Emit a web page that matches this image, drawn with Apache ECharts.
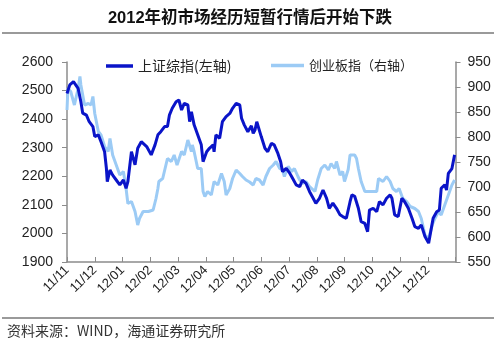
<!DOCTYPE html>
<html>
<head>
<meta charset="utf-8">
<script src="https://cdn.jsdelivr.net/npm/echarts@6/dist/echarts.min.js"></script>
<style>html,body{margin:0;padding:0;background:#fff;}#main{width:500px;height:349px;}</style>
</head>
<body>
<div id="main"></div>
<script>
const tickLabels = ['11/11','11/12','12/01','12/02','12/03','12/04','12/05','12/06','12/07','12/08','12/09','12/10','12/11','12/12',''];
const seriesNames = ['上证综指(左轴)', '创业板指（右轴）'];

const shDates = ['2011-11-01','2011-11-04','2011-11-08','2011-11-13','2011-11-16','2011-11-18','2011-11-22','2011-11-25','2011-11-29',
'2011-12-01','2011-12-05','2011-12-08','2011-12-12','2011-12-14','2011-12-15','2011-12-18','2011-12-21','2011-12-25','2011-12-29',
'2012-01-02','2012-01-05','2012-01-07','2012-01-11','2012-01-15','2012-01-18','2012-01-22','2012-01-28',
'2012-02-02','2012-02-06','2012-02-09','2012-02-12','2012-02-16','2012-02-19','2012-02-21','2012-02-24','2012-02-28',
'2012-03-02','2012-03-05','2012-03-08','2012-03-12','2012-03-14','2012-03-16','2012-03-19','2012-03-23','2012-03-27','2012-03-29',
'2012-04-02','2012-04-05','2012-04-09','2012-04-10','2012-04-12','2012-04-16','2012-04-19','2012-04-23','2012-04-27','2012-04-30',
'2012-05-04','2012-05-08','2012-05-10','2012-05-13','2012-05-17','2012-05-21','2012-05-23','2012-05-25','2012-05-27','2012-05-29',
'2012-06-01','2012-06-05','2012-06-08','2012-06-12','2012-06-15','2012-06-19','2012-06-22','2012-06-24','2012-06-28',
'2012-07-02','2012-07-05','2012-07-09','2012-07-13','2012-07-16','2012-07-20','2012-07-24','2012-07-28','2012-07-31',
'2012-08-04','2012-08-08','2012-08-12','2012-08-15','2012-08-19','2012-08-23','2012-08-27','2012-08-30',
'2012-09-03','2012-09-07','2012-09-09','2012-09-12','2012-09-16','2012-09-19','2012-09-23','2012-09-26','2012-09-28',
'2012-10-02','2012-10-06','2012-10-09','2012-10-13','2012-10-17','2012-10-21','2012-10-23','2012-10-26','2012-10-30',
'2012-11-03','2012-11-06','2012-11-10','2012-11-14','2012-11-17','2012-11-21','2012-11-24','2012-11-28',
'2012-12-02','2012-12-04','2012-12-07','2012-12-11','2012-12-14','2012-12-16','2012-12-20','2012-12-22','2012-12-24','2012-12-28','2012-12-31'];
const shValues = [2490,2520,2531,2508,2461,2421,2414,2391,2374,
2339,2345,2321,2286,2228,2181,2222,2204,2187,2170,
2187,2158,2181,2286,2240,2298,2321,2304,
2275,2310,2345,2356,2374,2374,2414,2438,2461,
2467,2432,2455,2450,2391,2426,2380,2345,2310,2251,
2286,2298,2310,2286,2345,2333,2391,2409,2420,2438,
2455,2450,2403,2380,2356,2377,2350,2362,2391,2385,
2339,2298,2286,2315,2310,2280,2251,2216,2228,
2210,2193,2170,2164,2187,2175,2146,2123,2105,
2123,2152,2123,2088,2106,2088,2065,2059,
2053,2111,2135,2130,2088,2041,2035,2006,2082,
2088,2076,2111,2100,2123,2135,2123,2065,2059,
2123,2111,2088,2053,2024,2018,2030,1989,
1966,1960,2053,2076,2082,2158,2170,2152,2210,2227,2275];

const cybDates = ['2011-11-01','2011-11-02','2011-11-05','2011-11-09','2011-11-13','2011-11-15','2011-11-16','2011-11-20','2011-11-24','2011-11-27','2011-11-29',
'2011-12-01','2011-12-05','2011-12-08','2011-12-12','2011-12-16','2011-12-18','2011-12-21','2011-12-25','2011-12-29',
'2012-01-02','2012-01-05','2012-01-07','2012-01-11','2012-01-15','2012-01-18','2012-01-20','2012-01-24','2012-01-30',
'2012-02-04','2012-02-07','2012-02-09','2012-02-10','2012-02-14','2012-02-19','2012-02-23','2012-02-26','2012-02-29',
'2012-03-05','2012-03-08','2012-03-12','2012-03-16','2012-03-17','2012-03-19','2012-03-23','2012-03-27','2012-03-29','2012-03-31',
'2012-04-03','2012-04-07','2012-04-10','2012-04-14','2012-04-18','2012-04-21','2012-04-23','2012-04-27','2012-04-30',
'2012-05-04','2012-05-08','2012-05-11','2012-05-15','2012-05-19','2012-05-23','2012-05-26','2012-05-30',
'2012-06-03','2012-06-06','2012-06-10','2012-06-14','2012-06-17','2012-06-21','2012-06-24','2012-06-26','2012-06-30',
'2012-07-04','2012-07-07','2012-07-11','2012-07-13','2012-07-16','2012-07-20','2012-07-24','2012-07-30',
'2012-08-02','2012-08-06','2012-08-10','2012-08-14','2012-08-17','2012-08-21','2012-08-23','2012-08-27','2012-08-30',
'2012-09-01','2012-09-05','2012-09-07','2012-09-12','2012-09-14','2012-09-16','2012-09-19','2012-09-23','2012-09-27','2012-09-30',
'2012-10-06','2012-10-08','2012-10-09','2012-10-13','2012-10-17','2012-10-21','2012-10-24','2012-10-28','2012-10-31',
'2012-11-04','2012-11-08','2012-11-12','2012-11-17','2012-11-21','2012-11-24','2012-11-28',
'2012-12-02','2012-12-03','2012-12-06','2012-12-09','2012-12-13','2012-12-16','2012-12-20','2012-12-24','2012-12-28','2012-12-31'];
const cybValues = [854,897,891,864,897,921,904,864,867,864,881,
847,811,804,781,771,797,764,744,724,
731,697,667,671,651,624,637,651,651,
654,677,697,711,717,757,751,764,744,
771,764,794,771,784,771,737,737,691,681,
691,684,711,704,727,711,684,697,717,
734,727,721,714,710,704,717,714,
704,721,737,744,751,737,734,721,741,
731,737,721,714,707,711,701,691,
714,737,744,734,747,737,751,724,731,
711,735,764,764,757,737,711,691,691,691,
691,717,721,711,721,711,697,691,697,
677,671,661,657,651,637,604,
597,604,624,637,651,644,664,684,704,714];

// convert a date to its position in months from the first tick (2011-11)
function monthPos(d) {
  const p = d.split('-').map(Number);
  const idx = (p[0] - 2011) * 12 + (p[1] - 11);
  const dim = new Date(p[0], p[1], 0).getDate();
  return idx + (p[2] - 1) / dim;
}
function pairs(dates, vals) { return dates.map((d, i) => [monthPos(d), vals[i]]); }

const FONT = "'Liberation Sans', 'Noto Sans CJK SC', sans-serif";
const CJK = "'Noto Sans CJK SC', sans-serif";
const DARK = '#0a14c8', LIGHT = '#9ccbf5';
const chart = echarts.init(document.getElementById('main'), null, {renderer: 'canvas'});
chart.setOption({
  animation: false,
  backgroundColor: '#fff',
  title: {
    text: '2012年初市场经历短暂行情后开始下跌',
    left: 'center', top: 5,
    textStyle: {fontFamily: FONT, fontSize: 16.5, fontWeight: 'bold', color: '#111'}
  },
  graphic: [
    {type: 'line', shape: {x1: 2, y1: 33, x2: 494, y2: 33}, style: {stroke: '#9a9a9a', lineWidth: 2}},
    {type: 'line', shape: {x1: 2, y1: 318, x2: 494, y2: 318}, style: {stroke: '#9a9a9a', lineWidth: 2}},
    {type: 'text', left: 7, top: 324, style: {text: '资料来源：WIND，海通证券研究所', font: "14px 'Noto Sans CJK SC', sans-serif", fill: '#333'}}
  ],
  legend: [
    {data: [{name: seriesNames[0], icon: 'rect'}], left: 101, top: 54, itemWidth: 27, itemHeight: 3.5, itemGap: 0,
     textStyle: {fontFamily: CJK, fontSize: 14, color: '#222'}},
    {data: [{name: seriesNames[1], icon: 'rect'}], left: 266, top: 54, itemWidth: 33, itemHeight: 3.5, itemGap: 0,
     textStyle: {fontFamily: CJK, fontSize: 13, color: '#222'}}
  ],
  grid: {left: 67, right: 44.5, top: 62, bottom: 87, containLabel: false},
  xAxis: {
    type: 'value', min: 0, max: 14, interval: 1,
    axisLine: {show: true, lineStyle: {color: '#8c8c8c', width: 1.5}},
    axisTick: {show: true, inside: true, length: 5, lineStyle: {color: '#8c8c8c'}},
    splitLine: {show: false},
    axisLabel: {
      rotate: 45, margin: 6, fontFamily: FONT, fontSize: 13, color: '#222',
      formatter: v => tickLabels[Math.round(v)] || ''
    }
  },
  yAxis: [
    {type: 'value', position: 'left', min: 1900, max: 2600, interval: 100,
     axisLine: {show: true, lineStyle: {color: '#8c8c8c', width: 1.5}},
     axisTick: {show: true, length: 5, lineStyle: {color: '#8c8c8c'}},
     splitLine: {show: false},
     axisLabel: {margin: 14, fontFamily: FONT, fontSize: 14, color: '#222', formatter: v => String(v)}},
    {type: 'value', position: 'right', min: 550, max: 950, interval: 50,
     axisLine: {show: true, lineStyle: {color: '#8c8c8c', width: 1.5}},
     axisTick: {show: true, length: 5, lineStyle: {color: '#8c8c8c'}},
     splitLine: {show: false},
     axisLabel: {margin: 12, fontFamily: FONT, fontSize: 14, color: '#222', formatter: v => String(v)}}
  ],
  series: [
    {name: seriesNames[1], type: 'line', yAxisIndex: 1, symbol: 'none', z: 2,
     data: pairs(cybDates, cybValues),
     lineStyle: {color: LIGHT, width: 3}, itemStyle: {color: LIGHT}},
    {name: seriesNames[0], type: 'line', yAxisIndex: 0, symbol: 'none', z: 3,
     data: pairs(shDates, shValues),
     lineStyle: {color: DARK, width: 3}, itemStyle: {color: DARK}}
  ]
});
</script>
</body>
</html>
